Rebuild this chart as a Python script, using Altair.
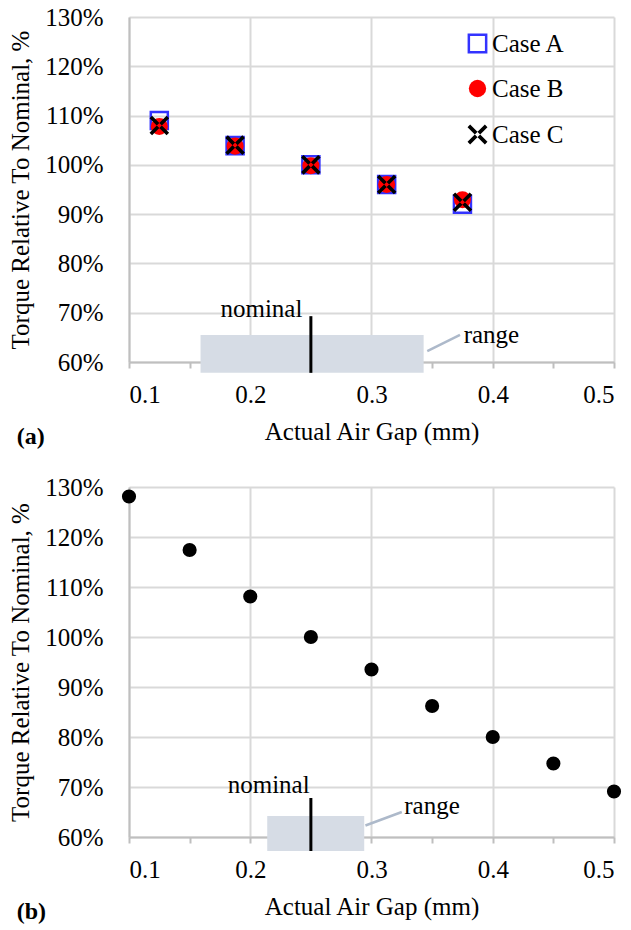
import altair as alt
import pandas as pd

FONT = "Liberation Serif"

# ---------------- data ----------------
cases = ["Case A", "Case B", "Case C"]

# panel (a)
a_gap = [0.125, 0.1875, 0.25, 0.3125, 0.375]
a_case_a = [109.0, 103.9, 100.0, 96.0, 92.0]
a_case_b = [107.8, 103.8, 99.8, 96.0, 92.9]
a_case_c = [108.0, 104.0, 100.0, 96.0, 92.4]

# panel (b)
b_gap = [0.10, 0.15, 0.20, 0.25, 0.30, 0.35, 0.40, 0.45, 0.50]
b_torque = [128.1, 117.4, 108.1, 100.0, 93.5, 86.2, 80.0, 74.7, 69.1]

x_ticks = [0.10, 0.15, 0.20, 0.25, 0.30, 0.35, 0.40, 0.45, 0.50]
y_ticks = [60, 70, 80, 90, 100, 110, 120, 130]

# annotations: tolerance range box, nominal marker, callout
a_range_x = [0.159, 0.343]
a_range_y = [57.8, 65.5]
a_nominal_x = 0.25
a_nominal_y = [57.8, 69.3]
a_nominal_text = [0.243, 69.1]
a_callout_x = [0.346, 0.373]
a_callout_y = [62.2, 65.5]
a_range_text = [0.376, 63.9]

b_range_x = [0.214, 0.294]
b_range_y = [57.2, 64.2]
b_nominal_x = 0.25
b_nominal_y = [57.2, 67.8]
b_nominal_text = [0.249, 68.8]
b_callout_x = [0.295, 0.325]
b_callout_y = [62.3, 65.0]
b_range_text = [0.327, 64.7]

# ---------------- helpers ----------------
x_scale = alt.Scale(domain=[0.1, 0.5], nice=False, zero=False)
y_scale = alt.Scale(domain=[60, 130], nice=False, zero=False)

grid_test = "round(datum.value*100) % 10 === 0"
x_axis = alt.Axis(
    values=x_ticks,
    title="Actual Air Gap (mm)",
    labelExpr="round(datum.value*100) % 10 === 0 ? format(datum.value, '.1f') : ''",
    gridOpacity={"condition": {"test": grid_test, "value": 1}, "value": 0},
    tickSize=6,
    labelPadding=14,
    titlePadding=12,
)
y_axis = alt.Axis(
    values=y_ticks,
    title="Torque Relative To Nominal, %",
    labelExpr="datum.value + '%'",
    ticks=False,
    labelPadding=26,
    titlePadding=11,
)


def annotations(rx, ry, nx, ny, nt, cx, cy, rt):
    box = pd.DataFrame({"x": [rx[0]], "x2": [rx[1]], "y": [ry[0]], "y2": [ry[1]]})
    nom = pd.DataFrame({"x": [nx], "y": [ny[0]], "y2": [ny[1]]})
    call = pd.DataFrame({"x": [cx[0]], "x2": [cx[1]], "y": [cy[0]], "y2": [cy[1]]})
    ntxt = pd.DataFrame({"x": [nt[0]], "y": [nt[1]], "t": ["nominal"]})
    rtxt = pd.DataFrame({"x": [rt[0]], "y": [rt[1]], "t": ["range"]})
    l_box = alt.Chart(box).mark_rect(color="#d6dce5").encode(
        x=alt.X("x:Q", scale=x_scale, axis=x_axis), x2="x2", y=alt.Y("y:Q", scale=y_scale, axis=y_axis), y2="y2")
    l_nom = alt.Chart(nom).mark_rule(color="black", strokeWidth=3).encode(
        x=alt.X("x:Q", scale=x_scale), y=alt.Y("y:Q", scale=y_scale), y2="y2")
    l_call = alt.Chart(call).mark_rule(color="#adb9ca", strokeWidth=2.5).encode(
        x=alt.X("x:Q", scale=x_scale), x2="x2", y=alt.Y("y:Q", scale=y_scale), y2="y2")
    l_nt = alt.Chart(ntxt).mark_text(align="right", baseline="alphabetic", font=FONT, fontSize=25, color="black").encode(
        x=alt.X("x:Q", scale=x_scale), y=alt.Y("y:Q", scale=y_scale), text="t:N")
    l_rt = alt.Chart(rtxt).mark_text(align="left", baseline="alphabetic", font=FONT, fontSize=25, color="black").encode(
        x=alt.X("x:Q", scale=x_scale), y=alt.Y("y:Q", scale=y_scale), text="t:N")
    return [l_box, l_call, l_nom, l_nt, l_rt]


# ---------------- panel (a) ----------------
rows = []
for c, vals in zip(cases, [a_case_a, a_case_b, a_case_c]):
    for g, v in zip(a_gap, vals):
        rows.append({"gap": g, "torque": v, "case": c})
df_a = pd.DataFrame(rows)

# thick "x" drawn as two filled diagonal bars
d = 0.15
x_path = (
    f"M {-1+d} {-1-d} L {1+d} {1-d} L {1-d} {1+d} L {-1-d} {-1+d} Z "
    f"M {-1+d} {1+d} L {1+d} {-1+d} L {1-d} {-1-d} L {-1-d} {1-d} Z"
)
legend = alt.Legend(
    title=None, orient="none", legendX=336, legendY=14, padding=0,
    labelFont=FONT, labelFontSize=25, labelColor="black",
    symbolSize=300, symbolStrokeWidth=2.5, rowPadding=16, labelOffset=2,
)
pts_a = alt.Chart(df_a).mark_point(opacity=1, size=290, strokeWidth=2.5).encode(
    x=alt.X("gap:Q", scale=x_scale),
    y=alt.Y("torque:Q", scale=y_scale),
    shape=alt.Shape("case:N", scale=alt.Scale(domain=cases, range=["square", "circle", x_path]), legend=legend),
    fill=alt.Fill("case:N", scale=alt.Scale(domain=cases, range=["transparent", "#ff0000", "#000000"]), legend=legend),
    stroke=alt.Stroke("case:N", scale=alt.Scale(domain=cases, range=["#3333ff", "transparent", "transparent"]), legend=legend),
    order=alt.Order("case:N"),
)

chart_a = alt.layer(
    *annotations(a_range_x, a_range_y, a_nominal_x, a_nominal_y, a_nominal_text,
                 a_callout_x, a_callout_y, a_range_text),
    pts_a,
).properties(
    width=485, height=345,
    title=alt.TitleParams("(a)", orient="bottom", anchor="start", frame="bounds",
                          font=FONT, fontSize=24, fontWeight="bold", color="black", offset=-19, dx=8),
)

# ---------------- panel (b) ----------------
df_b = pd.DataFrame({"gap": b_gap, "torque": b_torque})
pts_b = alt.Chart(df_b).mark_point(filled=True, color="black", opacity=1, size=200, shape="circle").encode(
    x=alt.X("gap:Q", scale=x_scale),
    y=alt.Y("torque:Q", scale=y_scale),
)

chart_b = alt.layer(
    *annotations(b_range_x, b_range_y, b_nominal_x, b_nominal_y, b_nominal_text,
                 b_callout_x, b_callout_y, b_range_text),
    pts_b,
).properties(
    width=485, height=350,
    title=alt.TitleParams("(b)", orient="bottom", anchor="start", frame="bounds",
                          font=FONT, fontSize=24, fontWeight="bold", color="black", offset=-19, dx=8),
)

chart = alt.vconcat(chart_a, chart_b, spacing=26).properties(
    padding={"left": 8, "top": 5, "right": 1, "bottom": 5},
).configure_view(stroke=None).configure_axis(
    labelFont=FONT, labelFontSize=25, labelColor="black",
    titleFont=FONT, titleFontSize=25, titleColor="black", titleFontWeight="normal",
    gridColor="#d9d9d9", gridWidth=2,
    domainColor="#bfbfbf", domainWidth=2,
    tickColor="#bfbfbf", tickWidth=2,
)

chart.save("out.html", embed_options={"renderer": "svg", "actions": False})
